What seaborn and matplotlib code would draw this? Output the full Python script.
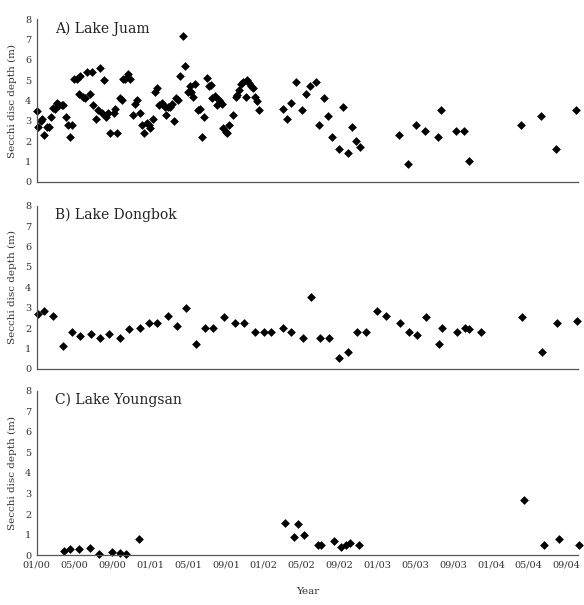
import numpy as np
import pandas as pd
import matplotlib
matplotlib.use("Agg")
import matplotlib.pyplot as plt
import seaborn as sns

# x values: months elapsed since January 2000 (decimal)
juam_month = [0.0, 0.1, 0.42, 0.59, 0.74, 1.06, 1.27, 1.48, 1.75, 1.97, 2.14, 2.39, 2.67, 2.81,
              3.06, 3.28, 3.52, 3.73, 3.97, 4.26, 4.44, 4.61, 4.89, 5.07, 5.31, 5.63, 5.81, 5.98,
              6.23, 6.44, 6.69, 6.9, 7.14, 7.32, 7.56, 7.78, 8.17, 8.27, 8.52, 8.8, 9.01, 9.15,
              9.36, 9.61, 9.89, 10.14, 10.35, 10.57, 10.88, 11.09, 11.34, 11.62, 11.86, 12.0,
              12.26, 12.47, 12.68, 12.92, 13.21, 13.52, 13.63, 13.87, 14.12, 14.29, 14.54, 14.72,
              14.96, 15.17, 15.46, 15.64, 15.95, 16.16, 16.33, 16.55, 16.76, 17.07, 17.25, 17.43,
              17.68, 17.96, 18.17, 18.38, 18.55, 18.84, 19.05, 19.23, 19.4, 19.55, 19.72, 19.97,
              20.14, 20.35, 20.74, 21.02, 21.19, 21.34, 21.55, 21.83, 22.11, 22.22, 22.43, 22.64,
              22.85, 23.06, 23.24, 23.52, 25.99, 26.44, 26.92, 27.36, 28.0, 28.45, 28.91, 29.48,
              29.83, 30.32, 30.74, 31.17, 31.94, 32.36, 32.86, 33.28, 33.73, 34.19, 38.31, 39.2,
              40.1, 41.06, 42.43, 42.72, 44.27, 45.18, 45.64, 51.2, 53.31, 54.86, 56.95]
juam_depth = [3.5, 2.7, 3.0, 3.1, 2.3, 2.7, 2.7, 3.2, 3.65, 3.6, 3.9, 3.8, 3.8, 3.8,
              3.2, 2.78, 2.18, 2.78, 5.07, 5.04, 4.33, 5.2, 4.17, 4.1, 5.4, 4.32, 5.4, 3.8,
              3.1, 3.53, 5.6, 3.4, 5.0, 3.2, 3.37, 2.4, 3.4, 3.6, 2.4, 4.1, 4.0, 5.07,
              5.07, 5.3, 5.07, 3.3, 3.83, 4.0, 3.38, 2.8, 2.4, 2.9, 2.78, 2.63,
              3.09, 4.43, 4.63, 3.8, 3.9, 3.68, 3.28, 3.66, 3.7, 3.83, 3.0, 4.1,
              4.02, 5.2, 7.19, 5.68, 4.43, 4.71, 4.43, 4.17, 4.8, 3.53, 3.6, 2.2,
              3.2, 5.09, 4.7, 4.76, 4.12, 4.22, 3.8, 4.02, 3.92, 3.83, 2.63, 2.46,
              2.38, 2.78, 3.3, 4.15, 4.25, 4.5, 4.8, 4.93, 4.17, 5.0, 4.85, 4.71,
              4.6, 4.19, 3.97, 3.51, 3.6, 3.09, 3.9, 4.93, 3.51, 4.32, 4.7, 4.93,
              2.79, 4.1, 3.22, 2.2, 1.59, 3.68, 1.41, 2.69, 2.02, 1.72, 2.32, 0.87,
              2.79, 2.5, 2.2, 3.51, 2.5, 2.5, 1.0, 2.79, 3.22, 1.59, 3.51]

dongbok_month = [0.1, 0.74, 1.75, 2.78, 3.7, 4.61, 5.77, 6.69, 7.61, 8.8, 9.72, 10.88, 11.83,
                 12.74, 13.9, 14.82, 15.74, 16.86, 17.75, 18.66, 19.79, 20.98, 21.9, 23.1, 24.01,
                 24.72, 26.02, 26.9, 28.1, 28.98, 29.93, 30.85, 31.94, 32.86, 33.84, 34.76, 35.95,
                 36.87, 38.42, 39.33, 40.21, 41.13, 42.54, 42.79, 44.37, 45.25, 45.71, 46.97,
                 51.3, 53.44, 54.94, 57.05]
dongbok_depth = [2.71, 2.82, 2.61, 1.14, 1.81, 1.63, 1.71, 1.52, 1.71, 1.52, 1.94, 2.02, 2.24,
                 2.24, 2.61, 2.11, 2.99, 1.21, 2.02, 2.02, 2.53, 2.24, 2.24, 1.81, 1.81,
                 1.81, 2.02, 1.81, 1.52, 3.51, 1.52, 1.52, 0.54, 0.83, 1.81, 1.81, 2.82,
                 2.61, 2.24, 1.81, 1.65, 2.53, 1.21, 2.02, 1.81, 2.02, 1.94, 1.81,
                 2.53, 0.83, 2.24, 2.33]

youngsan_month = [2.85, 3.52, 4.44, 5.6, 6.55, 7.92, 8.8, 9.43, 10.81, 26.23, 27.15, 27.64,
                  28.24, 29.72, 30.07, 31.44, 32.18, 32.65, 33.1, 34.02, 51.48, 53.57, 55.15, 57.26]
youngsan_depth = [0.19, 0.29, 0.29, 0.34, 0.08, 0.15, 0.13, 0.08, 0.79, 1.59, 0.87, 1.51,
                  1.0, 0.5, 0.5, 0.7, 0.42, 0.5, 0.58, 0.5, 2.69, 0.5, 0.79, 0.5]

tick_labels = ["01/00", "05/00", "09/00", "01/01", "05/01", "09/01", "01/02", "05/02",
               "09/02", "01/03", "05/03", "09/03", "01/04", "05/04", "09/04"]
panel_titles = ["A) Lake Juam", "B) Lake Dongbok", "C) Lake Youngsan"]

sns.set_style("white")
plt.rcParams["font.family"] = ["DejaVu Serif"]

fig = plt.figure(figsize=(5.84, 6.05), dpi=100)
W, H = 584.0, 605.0
left = 36.7 / W
width = (578 - 36.7) / W
boxes = [(19.3, 181.7), (205.7, 369.0), (390.7, 555.3)]

datasets = [(juam_month, juam_depth), (dongbok_month, dongbok_depth),
            (youngsan_month, youngsan_depth)]
tick_pos = [4 * i for i in range(len(tick_labels))]

for i, ((top, bot), (mx, dy), title) in enumerate(zip(boxes, datasets, panel_titles)):
    ax = fig.add_axes([left, (H - bot) / H, width, (bot - top) / H])
    df = pd.DataFrame({"month": mx, "depth": dy})
    sns.scatterplot(data=df, x="month", y="depth", ax=ax, marker="D", s=20,
                    color="black", edgecolor="black", linewidth=0, clip_on=False)
    ax.set_xlim(0, 57.2)
    ax.set_ylim(0, 8)
    ax.set_yticks(range(0, 9))
    ax.set_xticks(tick_pos)
    for s in ["top", "right"]:
        ax.spines[s].set_visible(False)
    for s in ["left", "bottom"]:
        ax.spines[s].set_color("#555555")
        ax.spines[s].set_linewidth(0.9)
    ax.tick_params(axis="both", direction="in", length=3, width=0.8, color="#555555",
                   labelsize=7, labelcolor="#333333", pad=4)
    ax.set_ylabel("Secchi disc depth (m)", fontsize=7.5, color="#333333", labelpad=6)
    if i == 2:
        ax.set_xticklabels(tick_labels)
        ax.set_xlabel("Year", fontsize=7.5, color="#333333", labelpad=12)
    else:
        ax.set_xticklabels([])
        ax.set_xlabel("")
    ax.text(0.034, 7.55, title, transform=ax.get_yaxis_transform(), fontsize=10,
            va="center", ha="left", color="#222222")

fig.savefig("out.png", dpi=100)
